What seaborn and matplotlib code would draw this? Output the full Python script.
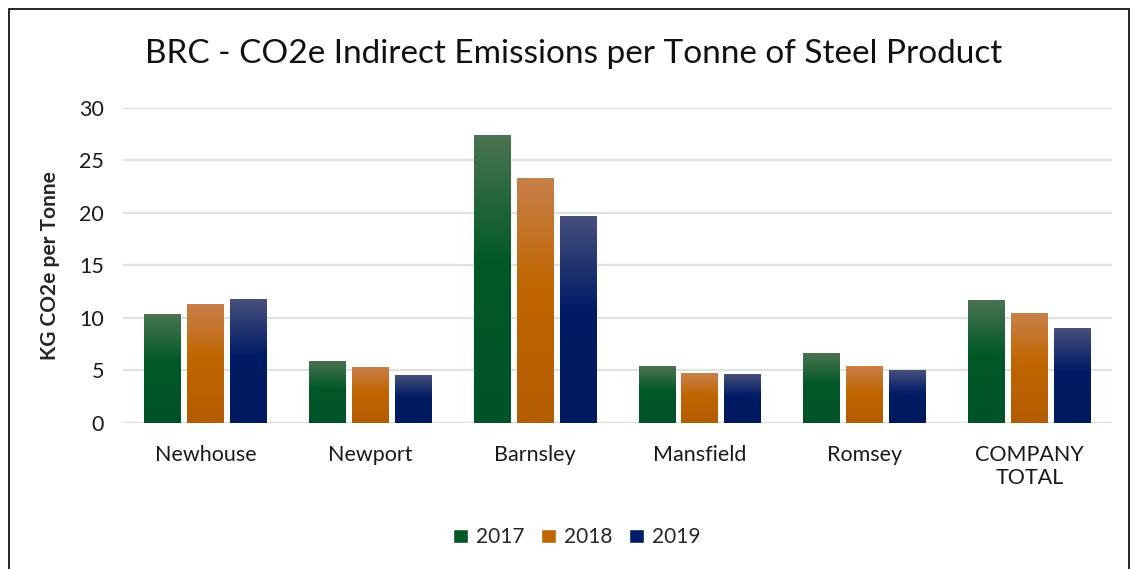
import numpy as np
import pandas as pd
import seaborn as sns
import matplotlib.pyplot as plt
from matplotlib.colors import LinearSegmentedColormap
from matplotlib.patches import Patch, Rectangle

# -----------------------------
# Data
# -----------------------------
sites = ["Newhouse", "Newport", "Barnsley", "Mansfield", "Romsey", "COMPANY\nTOTAL"]
years = ["2017", "2018", "2019"]
v2017 = [10.3, 5.9, 27.4, 5.4, 6.6, 11.7]
v2018 = [11.3, 5.3, 23.3, 4.7, 5.4, 10.4]
v2019 = [11.8, 4.5, 19.7, 4.6, 5.0, 9.0]

df = pd.DataFrame({
    "site": sites * 3,
    "year": [y for y in years for _ in sites],
    "value": v2017 + v2018 + v2019,
})

# base colour, lighter top, darker bottom for each year
base = {"2017": "#005826", "2018": "#C06600", "2019": "#001C66"}
tops = {"2017": "#4A7352", "2018": "#C8804A", "2019": "#474F7C"}
bottoms = {"2017": "#00532A", "2018": "#B35C00", "2019": "#00185C"}

sns.set_style("white")
plt.rcParams["font.family"] = ["Lato", "DejaVu Sans"]

fig = plt.figure(figsize=(11.31, 5.69), dpi=100)
ax = fig.add_axes([0.109, 0.2566, 0.874, 0.5536])

sns.barplot(data=df, x="site", y="value", hue="year", palette=base,
            width=0.78, gap=0.14, ax=ax, legend=False, zorder=2)

# -----------------------------
# Gradient fill on the bars
# -----------------------------
bars = [p for p in ax.patches if p.get_height() > 0]
grad = np.linspace(0, 1, 256).reshape(-1, 1)
for i, p in enumerate(bars):
    yr = years[i // len(sites)]
    cmap = LinearSegmentedColormap.from_list(
        yr, [(0, bottoms[yr]), (0.55, base[yr]), (1, tops[yr])])
    x, w, h = p.get_x(), p.get_width(), p.get_height()
    ax.imshow(grad, cmap=cmap, origin="lower", aspect="auto",
              extent=[x, x + w, 0, h], zorder=3)
    p.set_facecolor("none")
    p.set_edgecolor("none")

ax.set_xlim(-0.5, len(sites) - 0.5)
ax.set_ylim(0, 30)
ax.set_yticks(range(0, 31, 5))
ax.yaxis.grid(True, color="#DDE3E1", linewidth=1.6, zorder=0)
ax.set_axisbelow(True)
for s in ax.spines.values():
    s.set_visible(False)
ax.tick_params(axis="both", length=0, labelsize=15.5, colors="#1a1a1a")
ax.tick_params(axis="x", pad=16)
ax.tick_params(axis="y", pad=14)
ax.set_xlabel("")
ax.set_ylabel("KG CO2e per Tonne", fontsize=15, fontweight="bold", labelpad=14)

fig.text(0.507, 0.905, "BRC - CO2e Indirect Emissions per Tonne of Steel Product",
         ha="center", va="center", fontsize=24, color="#111111")

handles = [Patch(facecolor=base[y], label=y) for y in years]
fig.legend(handles=handles, loc="center", bbox_to_anchor=(0.51, 0.056), ncol=3,
           frameon=False, fontsize=15, handlelength=0.7, handleheight=0.7,
           columnspacing=0.8, handletextpad=0.4)

# outer border
fig.add_artist(Rectangle((0.008, -0.05), 0.99, 1.034, transform=fig.transFigure,
                         fill=False, edgecolor="black", linewidth=1.2))

fig.savefig("out.png", dpi=100)
